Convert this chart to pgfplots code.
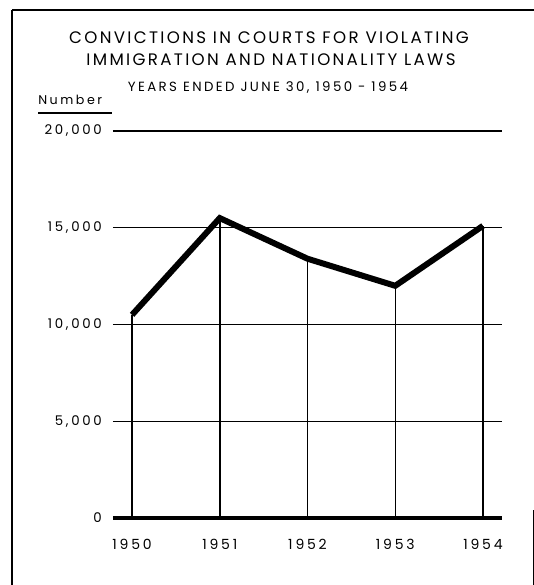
\documentclass[border=0pt]{standalone}
\usepackage{fontspec}
\usepackage{pgfplots}
\pgfplotsset{compat=1.18}
\setmainfont{Poppins}
\newfontfamily\titlefont[LetterSpace=14]{Poppins}
\newfontfamily\subfont[LetterSpace=18]{Poppins}
\newfontfamily\tickfont[LetterSpace=20]{Poppins}
\begin{document}
\begin{tikzpicture}
\path[use as bounding box] (0,0) rectangle (400.5pt,-438.75pt);
\fill[white] (0,0) rectangle (400.5pt,-438.75pt);
\draw[line width=1.5pt] (9pt,-7.5pt) -- (400.5pt,-7.5pt);
\draw[line width=1.5pt] (9pt,-7.5pt) -- (9pt,-438.75pt);
\draw[line width=0.8pt] (399.8pt,-382.5pt) -- (399.8pt,-438.75pt);
\node[font=\titlefont\fontsize{12.5}{14}\selectfont] at (201.75pt,-28.5pt) {CONVICTIONS IN COURTS FOR VIOLATING};
\node[font=\titlefont\fontsize{12.5}{14}\selectfont] at (203.25pt,-45pt) {IMMIGRATION AND NATIONALITY LAWS};
\node[font=\subfont\fontsize{10}{12}\selectfont] at (201pt,-66pt) {YEARS ENDED JUNE 30, 1950 - 1954};
\node[font=\tickfont\fontsize{9.5}{11}\selectfont, anchor=base west, inner sep=0pt] at (28.5pt,-78pt) {Number};
\draw[line width=0.8pt] (28.5pt,-84.75pt) -- (84pt,-84.75pt);
\begin{axis}[
  at={(84.75pt,-388.5pt)}, anchor=south west,
  scale only axis, width=291.75pt, height=290.25pt,
  xmin=1949.783, xmax=1954.217, ymin=0, ymax=20000,
  clip=false,
  scaled y ticks=false,
  axis line style={draw=none},
  major tick length=0pt,
  xtick={1950,1951,1952,1953,1954},
  xticklabels={1950,1951,1952,1953,1954},
  ytick={0,5000,10000,15000,20000},
  yticklabels={0,{5,000},{10,000},{15,000},{20,000}},
  ymajorgrids, grid style={black, line width=1.1pt},
  yticklabel style={font=\tickfont\fontsize{10}{12}\selectfont, anchor=east, inner sep=0pt, xshift=-8.25pt},
  xticklabel style={font=\tickfont\fontsize{10.5}{12}\selectfont, anchor=north, inner sep=0pt, yshift=-16pt},
]
\addplot[ycomb, black, line width=1.1pt, no marks] coordinates {
  (1950,10500) (1951,15500) (1952,13400) (1953,12000) (1954,15100)};
\addplot[black, line width=4.5pt, line join=miter, no marks] coordinates {
  (1950,10500) (1951,15500) (1952,13400) (1953,12000) (1954,15100)};
\draw[black, line width=2.4pt] (rel axis cs:0,0) -- (rel axis cs:1,0);
\end{axis}
\end{tikzpicture}
\end{document}
